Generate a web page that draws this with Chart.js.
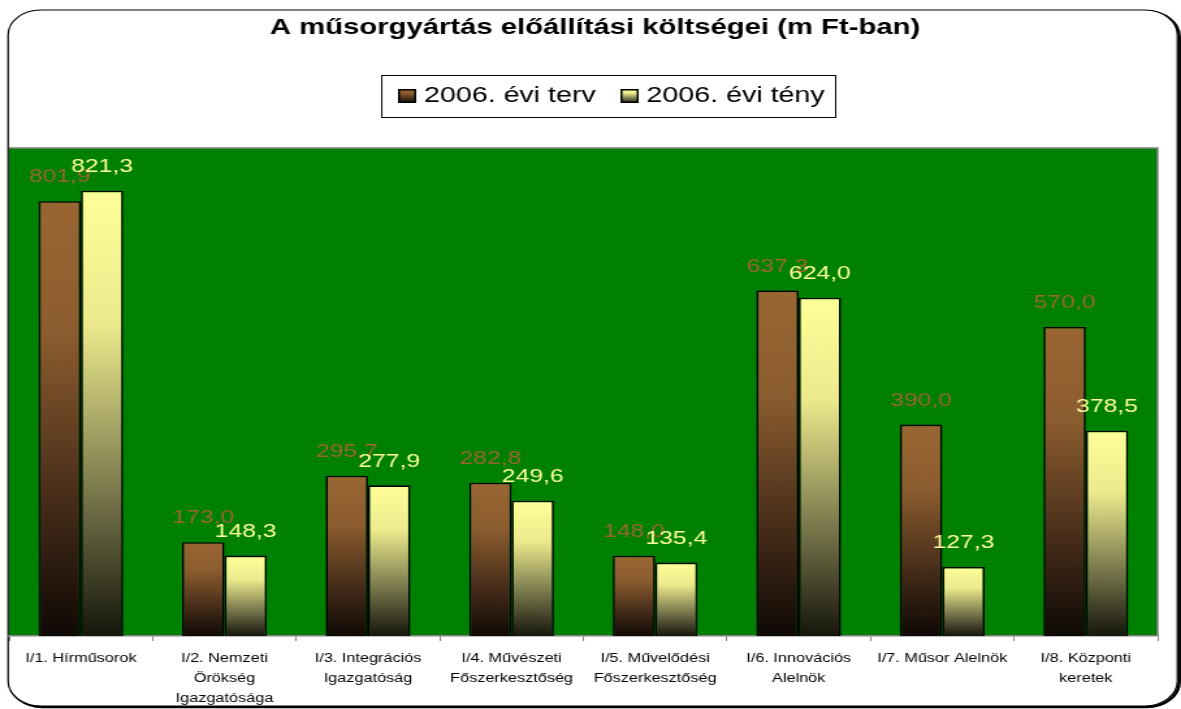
<!DOCTYPE html>
<html>
<head>
<meta charset="utf-8">
<title>A műsorgyártás előállítási költségei</title>
<script src="https://cdn.jsdelivr.net/npm/chart.js@4.4.1/dist/chart.umd.min.js"></script>
<style>
  html, body { margin: 0; padding: 0; background: #fff; overflow: hidden; }
</style>
</head>
<body>
<!-- the original picture is stretched sideways, so the canvas is too -->
<canvas id="chart" width="908" height="709" style="display:block;width:1181px;height:709px"></canvas>
<script>
const categories = [
  'I/1. Hírműsorok',
  ['I/2. Nemzeti', 'Örökség', 'Igazgatósága'],
  ['I/3. Integrációs', 'Igazgatóság'],
  ['I/4. Művészeti', 'Főszerkesztőség'],
  ['I/5. Művelődési', 'Főszerkesztőség'],
  ['I/6. Innovációs', 'Alelnök'],
  'I/7. Műsor Alelnök',
  ['I/8. Központi', 'keretek'],
];
const plannedValues = [801.9, 173.0, 295.7, 282.8, 148.0, 637.3, 390.0, 570.0];
const actualValues = [821.3, 148.3, 277.9, 249.6, 135.4, 624.0, 127.3, 378.5];
const seriesNames = ['2006. évi terv', '2006. évi tény'];

const FONT = '"Liberation Sans", Arial, sans-serif';

const palette = [
  { label: '#996633', stops: [[0, '#996633'], [0.3, '#8c5d2f'], [0.7, '#442b19'], [1, '#0f0905']] },
  { label: '#ffff99', stops: [[0, '#ffff99'], [0.3, '#ecea8c'], [0.7, '#727148'], [1, '#16160c']] },
];

function barGradient(context, stops) {
  const chart = context.chart;
  const first = stops[0][1];
  if (context.type !== 'data' || !chart.chartArea) return first;
  const y = chart.scales.y;
  const top = y.getPixelForValue(context.raw);
  const bottom = y.getPixelForValue(0);
  if (!isFinite(top) || !isFinite(bottom) || bottom - top < 1) return first;
  const g = chart.ctx.createLinearGradient(0, top, 0, bottom);
  stops.forEach(([o, c]) => g.addColorStop(o, c));
  return g;
}

// legend swatch, drawn on the right of a wider image so the text gap is tighter
function swatch(stops) {
  const c = document.createElement('canvas');
  c.width = 24;
  c.height = 14;
  const g = c.getContext('2d');
  const gr = g.createLinearGradient(0, 0, 0, 14);
  stops.forEach(([o, col]) => gr.addColorStop(o, col));
  g.fillStyle = gr;
  g.fillRect(10, 0, 14, 14);
  g.strokeStyle = '#000';
  g.lineWidth = 1.5;
  g.strokeRect(10.75, 0.75, 12.5, 12.5);
  return c;
}
const swatches = palette.map((p) => swatch(p.stops));

const framePlugin = {
  id: 'frame',
  afterLayout(chart) {
    chart.titleBlock.left += 9;
    chart.titleBlock.right += 9;
    chart.legend.left += 19;
    chart.legend.right += 19;
  },
  beforeDraw(chart) {
    const { ctx, chartArea: a } = chart;
    ctx.save();
    ctx.fillStyle = '#fff';
    ctx.fillRect(0, 0, chart.width, chart.height);

    ctx.strokeStyle = '#000';
    ctx.beginPath();
    ctx.roundRect(7.7, 11.5, 899, 695.5, 25);
    ctx.lineWidth = 2.5;
    ctx.stroke();
    ctx.beginPath();
    ctx.roundRect(6.2, 10, 899, 696, 25);
    ctx.fillStyle = '#fff';
    ctx.fill();
    ctx.lineWidth = 1.2;
    ctx.stroke();

    ctx.fillStyle = '#008000';
    ctx.fillRect(a.left, a.top, a.right - a.left, a.bottom - a.top);
    ctx.strokeStyle = '#808080';
    ctx.lineWidth = 1.5;
    ctx.beginPath();
    ctx.moveTo(a.left, a.top);
    ctx.lineTo(a.right, a.top);
    ctx.lineTo(a.right, a.bottom);
    ctx.stroke();
    ctx.restore();
  },
  afterDraw(chart) {
    const ctx = chart.ctx;
    const boxes = chart.legend.legendHitBoxes;
    if (!boxes || !boxes.length) return;
    const first = boxes[0];
    const last = boxes[boxes.length - 1];
    const cy = first.top + first.height / 2;
    const x0 = Math.round(first.left - 8) + 0.5;
    const x1 = Math.round(last.left + last.width + 8) + 0.5;
    ctx.save();
    ctx.strokeStyle = '#000';
    ctx.lineWidth = 1;
    ctx.strokeRect(x0, Math.round(cy - 21) + 0.5, x1 - x0, 42);
    ctx.restore();
  },
};

const valueLabels = {
  id: 'valueLabels',
  afterDatasetsDraw(chart) {
    const ctx = chart.ctx;
    ctx.save();
    ctx.font = '19px ' + FONT;
    ctx.textAlign = 'center';
    ctx.textBaseline = 'middle';
    chart.data.datasets.forEach((ds, i) => {
      ctx.fillStyle = palette[i].label;
      chart.getDatasetMeta(i).data.forEach((bar, j) => {
        ctx.fillText(ds.data[j].toFixed(1).replace('.', ','), bar.x, bar.y - 24);
      });
    });
    ctx.restore();
  },
};

new Chart(document.getElementById('chart'), {
  type: 'bar',
  data: {
    labels: categories,
    datasets: [
      {
        label: seriesNames[0],
        data: plannedValues,
        backgroundColor: (c) => barGradient(c, palette[0].stops),
        borderColor: '#000',
        borderWidth: 1.6,
        categoryPercentage: 0.59,
        barPercentage: 1,
      },
      {
        label: seriesNames[1],
        data: actualValues,
        backgroundColor: (c) => barGradient(c, palette[1].stops),
        borderColor: '#000',
        borderWidth: 1.6,
        categoryPercentage: 0.59,
        barPercentage: 1,
      },
    ],
  },
  options: {
    responsive: false,
    animation: false,
    devicePixelRatio: 1,
    events: [],
    layout: { padding: { left: 7, right: 18, top: 10, bottom: 1 } },
    plugins: {
      title: {
        display: true,
        text: 'A műsorgyártás előállítási költségei (m Ft-ban)',
        color: '#000',
        font: { family: FONT, size: 22.5, weight: 'bold', lineHeight: 1.2 },
        padding: { top: 4, bottom: 30 },
      },
      legend: {
        display: true,
        labels: {
          usePointStyle: true,
          boxWidth: 14,
          boxHeight: 14,
          padding: 14,
          color: '#000',
          font: { family: FONT, size: 22 },
          generateLabels: (chart) => chart.data.datasets.map((ds, i) => ({
            text: ds.label,
            pointStyle: swatches[i],
            fillStyle: palette[i].label,
            strokeStyle: '#000',
            lineWidth: 1,
            hidden: false,
            datasetIndex: i,
          })),
        },
      },
      // empty subtitle only keeps the gap between the legend and the plot
      subtitle: {
        display: true,
        text: '',
        weight: 500,
        font: { size: 1, lineHeight: 1 },
        padding: { top: 30, bottom: 0 },
      },
      tooltip: { enabled: false },
    },
    scales: {
      x: {
        afterFit: (scale) => { scale.height = 72; },
        grid: { drawOnChartArea: false, tickLength: 5, color: '#808080', lineWidth: 1 },
        border: { color: '#808080', width: 1.5 },
        ticks: {
          padding: 8,
          color: '#000',
          autoSkip: false,
          maxRotation: 0,
          font: { family: FONT, size: 12.5, lineHeight: 1.6 },
        },
      },
      y: { display: false, min: 0, max: 900 },
    },
  },
  plugins: [framePlugin, valueLabels],
});
</script>
</body>
</html>
